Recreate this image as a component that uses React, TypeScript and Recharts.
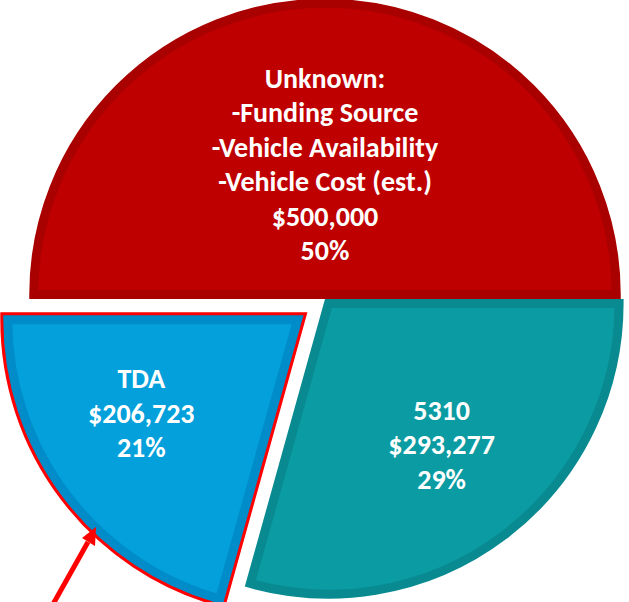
import React from 'react';
import { PieChart, Pie, Cell } from 'recharts';

const categories = ['Unknown', '5310', 'TDA'];
const categoryLines = [
  ['Unknown:', '-Funding Source', '-Vehicle Availability', '-Vehicle Cost (est.)'],
  ['5310'],
  ['TDA'],
];
const amounts = [500000, 293277, 206723];

const data = categories.map((name, i) => ({ name, value: amounts[i] }));
const total = amounts.reduce((a, b) => a + b, 0);

const fills = ['#BF0000', '#0B9BA2', '#03A0DB'];
const bands = ['#A90000', '#088A90', '#008BC9'];
const explode = [0, 0, 27];
// label placement: fraction of radius, angle nudge in degrees
const labelRadius = [0.439, 0.608, 0.612];
const labelTurn = [0, 1.6, -6.5];

const W = 629;
const H = 602;
const CX = 325;
const CY = 299;
const R = 298;
const BAND = 9;
const OUTLINE = 3;
const START = 180;
const END = -180;
const RAD = Math.PI / 180;
const FONT = 'Carlito, Calibri, Lato, "Open Sans", sans-serif';

// push each slice along its bisector: explode + half the band so the stroke stays inside
const sliceGeom = amounts.map((v, i) => {
  const before = amounts.slice(0, i).reduce((a, b) => a + b, 0);
  const span = (v / total) * 360;
  const mid = START - (before / total) * 360 - span / 2;
  const shift = BAND / 2 / Math.sin((span / 2) * RAD);
  const d = explode[i] + shift;
  return {
    cx: CX + d * Math.cos(mid * RAD),
    cy: CY - d * Math.sin(mid * RAD),
    r: R - BAND / 2 - shift / 2,
  };
});

const renderLabel = (slice: number) => (p: any) => {
  if (p.index !== slice) return null;
  const r = 297 * labelRadius[slice];
  const a = (p.midAngle + labelTurn[slice]) * RAD;
  const x = p.cx + r * Math.cos(a);
  const y = p.cy - r * Math.sin(a);
  const lines = [
    ...categoryLines[slice],
    '$' + amounts[slice].toLocaleString('en-US'),
    Math.round(p.percent * 100) + '%',
  ];
  const lh = 34.5;
  return (
    <text
      x={x}
      y={y - ((lines.length - 1) * lh) / 2}
      textAnchor="middle"
      dominantBaseline="central"
      fill="#fff"
      style={{ fontFamily: FONT, fontWeight: 'bold', fontSize: 28 }}
    >
      {lines.map((l, k) => (
        <tspan key={k} x={x} dy={k === 0 ? 0 : lh}>
          {l}
        </tspan>
      ))}
    </text>
  );
};

export default function App() {
  const pies: React.ReactNode[] = [];
  categories.forEach((_, slice) => {
    const { cx, cy, r } = sliceGeom[slice];
    if (slice === 2) {
      pies.push(
        <Pie
          key="tda-outline"
          data={data}
          dataKey="value"
          cx={cx}
          cy={cy}
          outerRadius={r}
          startAngle={START}
          endAngle={END}
          isAnimationActive={false}
          labelLine={false}
        >
          {data.map((_, i) => (
            <Cell
              key={i}
              fill={i === slice ? '#FF0000' : 'none'}
              stroke={i === slice ? '#FF0000' : 'none'}
              strokeWidth={BAND + OUTLINE * 2}
            />
          ))}
        </Pie>
      );
    }
    pies.push(
      <Pie
        key={slice}
        data={data}
        dataKey="value"
        cx={cx}
        cy={cy}
        outerRadius={r}
        startAngle={START}
        endAngle={END}
        isAnimationActive={false}
        labelLine={false}
        label={renderLabel(slice)}
      >
        {data.map((_, i) => (
          <Cell
            key={i}
            fill={i === slice ? fills[i] : 'none'}
            stroke={i === slice ? bands[i] : 'none'}
            strokeWidth={BAND}
          />
        ))}
      </Pie>
    );
  });

  return (
    <div style={{ position: 'absolute', left: 0, top: 0, width: W, height: H, background: '#fff' }}>
      <PieChart width={W} height={H} margin={{ top: 0, right: 0, bottom: 0, left: 0 }}>
        {pies}
      </PieChart>
      <svg width={W} height={H} style={{ position: 'absolute', left: 0, top: 0, pointerEvents: 'none' }}>
        <line x1={52} y1={606} x2={88} y2={542} stroke="#FF0000" strokeWidth={5} />
        <polygon points="96,527 82,538 95,546" fill="#FF0000" />
      </svg>
    </div>
  );
}
